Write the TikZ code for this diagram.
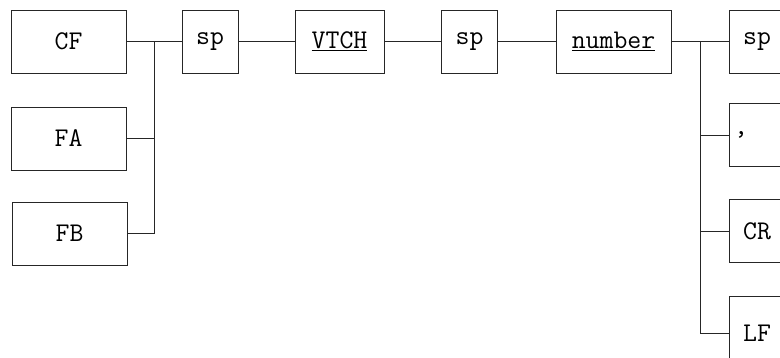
\documentclass[tikz,border=0pt]{standalone}
\begin{document}
\begin{tikzpicture}[x=1pt,y=-1pt,
  box/.style={draw=black!85, line width=0.8pt, minimum height=63pt, inner sep=0pt,
    font=\fontsize{27}{30}\selectfont\ttfamily},
  wide/.style={box, minimum width=115pt},
  narrow/.style={box, minimum width=56pt},
  conn/.style={draw=black!85, line width=0.8pt}]
\useasboundingbox (0,0) rectangle (780,358);
\node[wide] (CF) at (68.5,41.5) {CF};
\node[wide] (FA) at (68.5,138.5) {FA};
\node[wide] (FB) at (69.5,233.5) {FB};
\node[narrow] (sp1) at (210,41.5) {sp};
\node[box, minimum width=89pt] (VTCH) at (339.5,41.5) {\underline{VTCH}};
\node[narrow] (sp2) at (469.5,41.5) {sp};
\node[wide] (num) at (613.5,41.5) {\underline{number}};
\node[narrow] (sp3) at (757,41.5) {sp};
\node[narrow] (comma) at (757,135) {,\hspace*{32pt}};
\node[narrow] (CR) at (757,231) {CR};
\node[narrow, minimum height=74pt] (LF) at (757,333) {LF};
\coordinate (j1) at (154,41.5);
\coordinate (j2) at (700,41.5);
\draw[conn] (CF.east) -- (sp1.west);
\draw[conn] (FA.east) -| (j1);
\draw[conn] (FB.east) -| (j1);
\draw[conn] (sp1.east) -- (VTCH.west);
\draw[conn] (VTCH.east) -- (sp2.west);
\draw[conn] (sp2.east) -- (num.west);
\draw[conn] (num.east) -- (sp3.west);
\draw[conn] (j2) |- (comma.west);
\draw[conn] (j2) |- (CR.west);
\draw[conn] (j2) |- (LF.west);
\end{tikzpicture}
\end{document}
